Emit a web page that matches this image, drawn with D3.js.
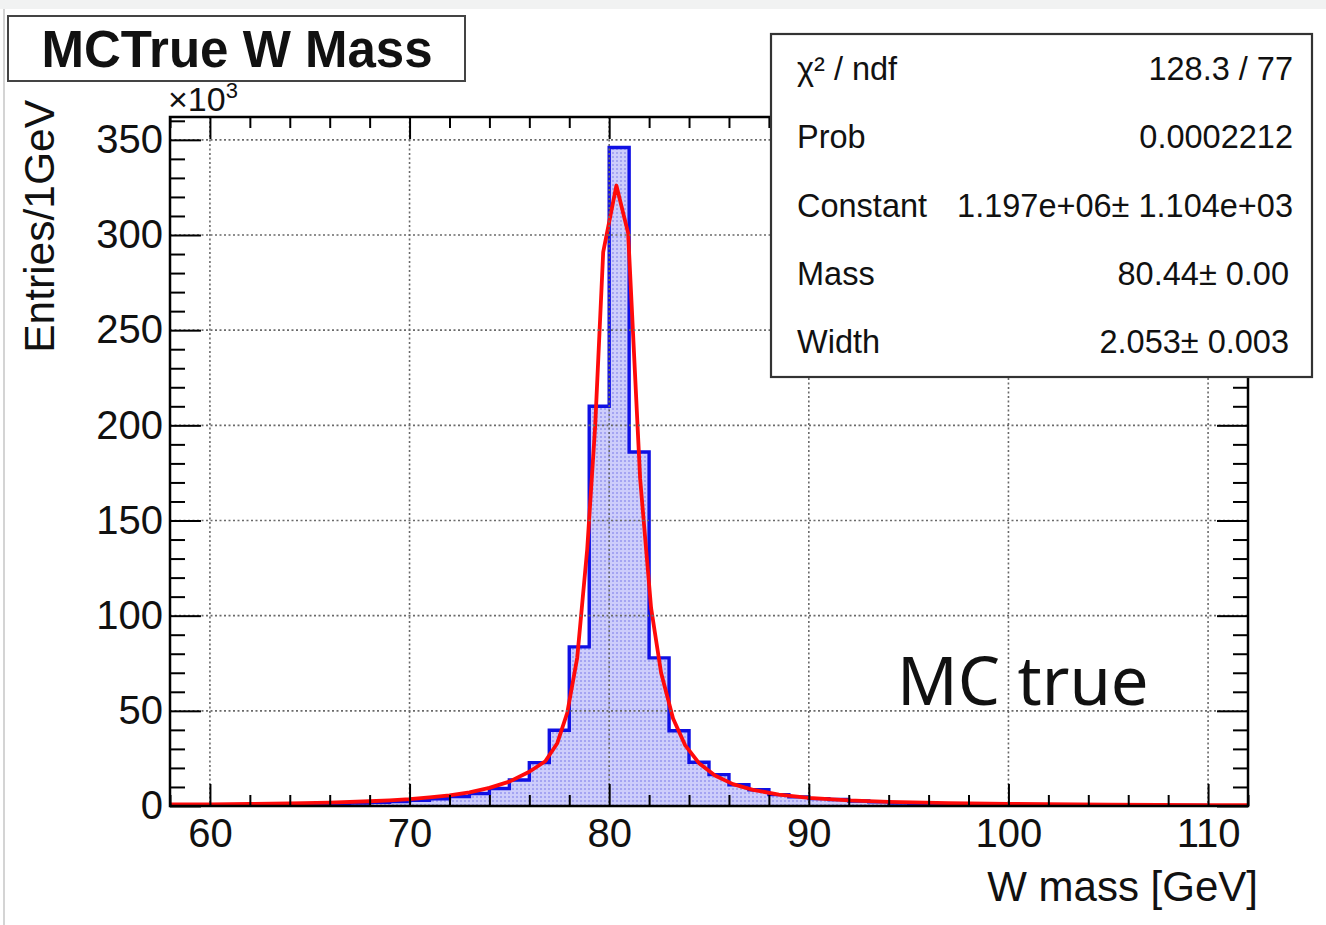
<!DOCTYPE html>
<html>
<head>
<meta charset="utf-8">
<script src="https://cdn.jsdelivr.net/npm/d3@7"></script>
<style>
  body { margin: 0; background: #fff; }
  text { font-family: "Liberation Sans", Arial, Helvetica, sans-serif; fill: #111; }
  .axis text { font-size: 40px; }
  .axis line { stroke: #000; stroke-width: 2; }
  .grid line { stroke: #6a6a6a; stroke-width: 1.6; stroke-dasharray: 2,2.5; }
</style>
</head>
<body>
<div id="vis"></div>
<script>
// W mass histogram (1 GeV bins), entries in thousands
var massBins = [58, 59, 60, 61, 62, 63, 64, 65, 66, 67, 68, 69, 70, 71, 72, 73, 74, 75, 76, 77,
    78, 79, 80, 81, 82, 83, 84, 85, 86, 87, 88, 89, 90, 91, 92, 93, 94, 95, 96, 97,
    98, 99, 100, 101, 102, 103, 104, 105, 106, 107, 108, 109, 110, 111];
var entriesK = [0.3, 0.4, 0.5, 0.5, 0.6, 0.7, 0.8, 1.0, 1.2, 1.5, 1.9, 2.4, 3.0, 3.8, 5.0, 6.6, 9.2, 13.7, 22.8, 39.8,
    83.6, 210, 346, 186, 77.8, 39.5, 23.0, 16.5, 11.2, 8.5, 6.0, 4.8, 3.9, 3.4, 2.6, 2.2, 1.6, 1.3, 1.1, 1.0,
    0.8, 0.7, 0.6, 0.5, 0.5, 0.4, 0.4, 0.4, 0.3, 0.3, 0.3, 0.3, 0.2, 0.2];

// fitted curve as drawn
var fitMass = [58, 60, 62, 64, 66, 68, 69, 70, 71, 72, 73, 74, 75, 76, 76.8, 77.4, 77.9, 78.4, 78.9, 79.3,
    79.7, 80.36, 80.95, 81.55, 82.1, 82.6, 83.2, 83.8, 84.5, 85.3, 86.2, 87.2, 88.5, 90, 92, 94, 97, 100, 105, 110, 112];
var fitEntriesK = [0.8, 0.9, 1.1, 1.4, 1.8, 2.5, 3.0, 3.6, 4.5, 5.6, 7.2, 9.5, 12.8, 18.0, 23.5, 33, 49, 78, 135, 200,
    291, 326, 301, 172, 104, 70, 46, 32, 22.5, 16, 11.5, 8.5, 6.0, 4.3, 3.0, 2.2, 1.5, 1.1, 0.7, 0.5, 0.45];

var xTicks = [60, 70, 80, 90, 100, 110];
var xMinorTicks = [58, 62, 64, 66, 68, 72, 74, 76, 78, 82, 84, 86, 88, 92, 94, 96, 98, 102, 104, 106, 108, 112];
var yTicks = [0, 50, 100, 150, 200, 250, 300, 350];
var yMinorTicks = [10, 20, 30, 40, 60, 70, 80, 90, 110, 120, 130, 140, 160, 170, 180, 190,
    210, 220, 230, 240, 260, 270, 280, 290, 310, 320, 330, 340, 360];

var statLabels = ['χ² / ndf', 'Prob', 'Constant', 'Mass', 'Width'];
var statValues = ['128.3 / 77', '0.0002212', '1.197e+06± 1.104e+03', '80.44± 0.00', '2.053± 0.003'];

var width = 1326, height = 925;
var frame = { left: 170, right: 1248, top: 117, bottom: 806 };

var svg = d3.select('#vis').append('svg')
    .attr('width', width)
    .attr('height', height);

// faint screenshot border
svg.append('rect').attr('x', 0).attr('y', 0).attr('width', width).attr('height', 9).attr('fill', '#f1f2f2');
svg.append('line').attr('x1', 4).attr('x2', 4).attr('y1', 9).attr('y2', height)
    .attr('stroke', '#d4d4d4').attr('stroke-width', 2);

var xScale = d3.scaleLinear().domain([58, 112]).range([frame.left, frame.right]);
var yScale = d3.scaleLinear().domain([0, 362]).range([frame.bottom, frame.top]);

var defs = svg.append('defs');
var pat = defs.append('pattern').attr('id', 'dots')
    .attr('patternUnits', 'userSpaceOnUse').attr('width', 4).attr('height', 4);
pat.append('rect').attr('width', 4).attr('height', 4).attr('fill', '#cdcdfb');
pat.append('rect').attr('x', 0).attr('y', 0).attr('width', 2).attr('height', 2).attr('fill', '#a4a4f2');
defs.append('clipPath').attr('id', 'clip').append('rect')
    .attr('x', frame.left).attr('y', frame.top)
    .attr('width', frame.right - frame.left).attr('height', frame.bottom - frame.top);

var plot = svg.append('g').attr('clip-path', 'url(#clip)');

// step points, last edge repeated to close the final bin
var steps = massBins.map(function (m, i) { return [m, entriesK[i]]; });
steps.push([massBins[massBins.length - 1] + 1, entriesK[entriesK.length - 1]]);

var area = d3.area()
    .curve(d3.curveStepAfter)
    .x(function (d) { return xScale(d[0]); })
    .y0(yScale(0))
    .y1(function (d) { return yScale(d[1]); });

plot.append('path').datum(steps)
    .attr('d', area)
    .attr('fill', 'url(#dots)');

// grid
var grid = svg.append('g').attr('class', 'grid');
grid.selectAll('.gx').data(xTicks).enter().append('line')
    .attr('x1', function (d) { return xScale(d); })
    .attr('x2', function (d) { return xScale(d); })
    .attr('y1', frame.top).attr('y2', frame.bottom);
grid.selectAll('.gy').data(yTicks.slice(1)).enter().append('line')
    .attr('x1', frame.left).attr('x2', frame.right)
    .attr('y1', function (d) { return yScale(d); })
    .attr('y2', function (d) { return yScale(d); });

var outline = d3.line()
    .curve(d3.curveStepAfter)
    .x(function (d) { return xScale(d[0]); })
    .y(function (d) { return yScale(d[1]); });

plot.append('path').datum(steps)
    .attr('d', outline)
    .attr('fill', 'none')
    .attr('stroke', '#1010e4')
    .attr('stroke-width', 3.4);

var fitLine = d3.line()
    .x(function (d, i) { return xScale(d); })
    .y(function (d, i) { return yScale(fitEntriesK[i]); });

plot.append('path').datum(fitMass)
    .attr('d', fitLine)
    .attr('fill', 'none')
    .attr('stroke', '#ff0a0a')
    .attr('stroke-width', 3.8)
    .attr('stroke-linejoin', 'round');

// axes with inside ticks
var axisG = svg.append('g').attr('class', 'axis');
axisG.append('g').attr('transform', 'translate(0,' + frame.bottom + ')')
    .call(d3.axisBottom(xScale).tickValues(xTicks).tickSize(-22).tickPadding(13).tickFormat(d3.format('d')));
axisG.append('g').attr('transform', 'translate(0,' + frame.bottom + ')')
    .call(d3.axisBottom(xScale).tickValues(xMinorTicks).tickSize(-11).tickFormat(''));
axisG.append('g').attr('transform', 'translate(0,' + frame.top + ')')
    .call(d3.axisTop(xScale).tickValues(xTicks).tickSize(-22).tickFormat(''));
axisG.append('g').attr('transform', 'translate(0,' + frame.top + ')')
    .call(d3.axisTop(xScale).tickValues(xMinorTicks).tickSize(-11).tickFormat(''));
axisG.append('g').attr('transform', 'translate(' + frame.left + ',0)')
    .call(d3.axisLeft(yScale).tickValues(yTicks).tickSize(-31).tickPadding(7).tickFormat(d3.format('d')));
axisG.append('g').attr('transform', 'translate(' + frame.left + ',0)')
    .call(d3.axisLeft(yScale).tickValues(yMinorTicks).tickSize(-15).tickFormat(''));
axisG.append('g').attr('transform', 'translate(' + frame.right + ',0)')
    .call(d3.axisRight(yScale).tickValues(yTicks).tickSize(-31).tickFormat(''));
axisG.append('g').attr('transform', 'translate(' + frame.right + ',0)')
    .call(d3.axisRight(yScale).tickValues(yMinorTicks).tickSize(-15).tickFormat(''));
axisG.selectAll('.domain').remove();
axisG.selectAll('text').attr('fill', '#111').style('font-family', '"Liberation Sans", Arial, sans-serif');

svg.append('rect')
    .attr('x', frame.left).attr('y', frame.top)
    .attr('width', frame.right - frame.left).attr('height', frame.bottom - frame.top)
    .attr('fill', 'none').attr('stroke', '#000').attr('stroke-width', 2.5);

// exponent label
var expo = svg.append('text').attr('x', 168).attr('y', 111).style('font-size', '34px').text('×10');
expo.append('tspan').attr('dy', -13).style('font-size', '22px').text('3');

// axis titles
svg.append('text')
    .attr('text-anchor', 'end')
    .attr('x', 1258).attr('y', 901)
    .style('font-size', '42px')
    .text('W mass [GeV]');

svg.append('text')
    .attr('text-anchor', 'end')
    .attr('transform', 'translate(54,100) rotate(-90)')
    .style('font-size', '42.5px')
    .text('Entries/1GeV');

// title box
svg.append('rect').attr('x', 8).attr('y', 16).attr('width', 457).attr('height', 65)
    .attr('fill', '#fff').attr('stroke', '#444').attr('stroke-width', 2);
svg.append('text')
    .attr('x', 237).attr('y', 67)
    .attr('text-anchor', 'middle')
    .style('font-size', '51px').style('font-weight', 'bold')
    .text('MCTrue W Mass');

// fit statistics box
svg.append('rect').attr('x', 771).attr('y', 34).attr('width', 541).attr('height', 343)
    .attr('fill', '#fff').attr('stroke', '#333').attr('stroke-width', 2.2);
var stats = svg.append('g').style('font-size', '32.5px');
stats.selectAll('.lab').data(statLabels).enter().append('text')
    .attr('x', 797)
    .attr('y', function (d, i) { return 80 + i * 68.3; })
    .text(function (d) { return d; });
stats.selectAll('.val').data(statValues).enter().append('text')
    .attr('text-anchor', 'end')
    .attr('x', function (d, i) { return i >= 3 ? 1289 : 1293; })
    .attr('y', function (d, i) { return 80 + i * 68.3; })
    .text(function (d) { return d; });

// annotation
svg.append('text')
    .attr('x', 897).attr('y', 705)
    .style('font-family', '"Noto Sans", "Open Sans", sans-serif')
    .style('font-size', '67px')
    .attr('fill', '#000')
    .text('MC true');
</script>
</body>
</html>
